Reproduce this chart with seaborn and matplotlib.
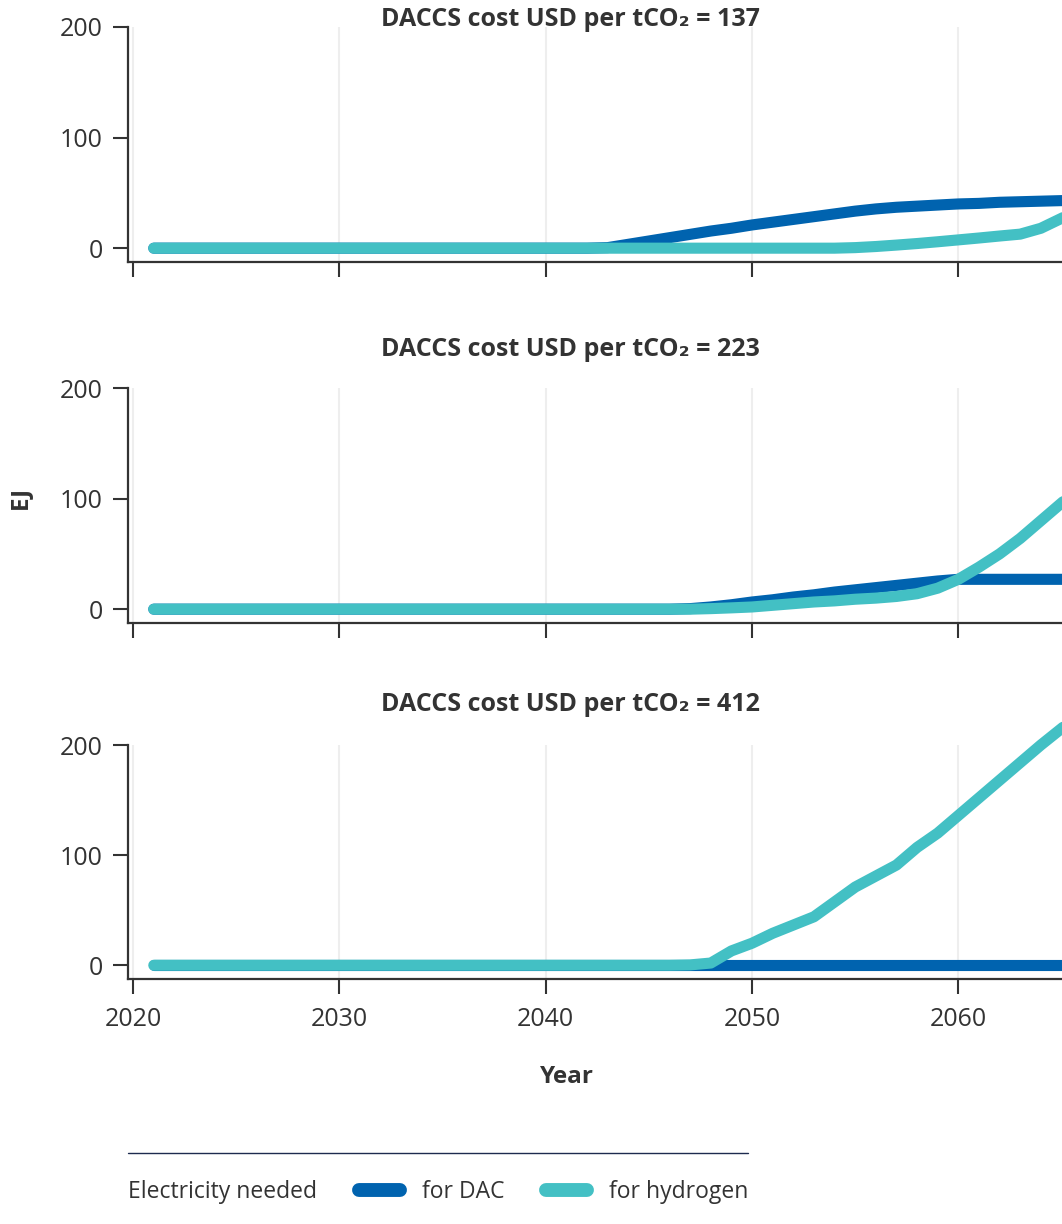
import numpy as np
import pandas as pd
import matplotlib
matplotlib.use('Agg')
import matplotlib.pyplot as plt
from matplotlib.lines import Line2D
import seaborn as sns

# ── Data (EJ of electricity needed) ───────────────────────────────────────────

years = list(range(2021, 2067))

costs = [137, 223, 412]

dac_137 = [0] * 22 + [0.5, 3.5, 6.5, 9.5, 12.5, 15.5, 18, 21, 23.5, 26, 28.5, 31,
                      33.5, 35.5, 37, 38, 39, 40, 40.5, 41.5, 42, 42.5, 43, 43.5]
hyd_137 = [0] * 34 + [0.5, 1.5, 2.8, 4.2, 5.8, 7.5, 9.2, 11, 12.7, 18, 27, 36]

dac_223 = [0] * 26 + [0.5, 2, 4, 6.5, 8.5, 11, 13, 15.5, 17.5, 19.5, 21.5, 23.5,
                      25.5, 27, 27, 27, 27, 27, 27, 27]
hyd_223 = [0] * 27 + [0.5, 1.2, 2, 3.5, 5, 6.5, 7.5, 9, 10, 11.5, 14, 19, 27, 38,
                      50, 64, 80, 96, 112]

dac_412 = [0] * 46
hyd_412 = [0] * 26 + [0.3, 2, 13, 20, 29, 36.5, 44, 57.5, 71, 81, 91, 107, 120,
                      136, 152, 168, 184, 200, 215, 230]

series = ['for DAC', 'for hydrogen']
colors = ['#0063af', '#43c0c4']
panel_data = {137: (dac_137, hyd_137), 223: (dac_223, hyd_223), 412: (dac_412, hyd_412)}

x_ticks = [2020, 2030, 2040, 2050, 2060]
y_ticks = [0, 100, 200]

# ── Style ─────────────────────────────────────────────────────────────────────

sns.set_theme(style='white')
plt.rcParams['font.family'] = ['Open Sans', 'DejaVu Sans']
TXT = '#333333'

W, H = 1062, 1224
fig = plt.figure(figsize=(W / 100, H / 100), dpi=100)

# axes boxes in pixels: (top of 200 tick, x-axis line)
boxes = [(27, 262), (388, 623), (745, 979)]
title_y = [20, 349, 705]
px_per_year = 20.63
x0 = 2019.75
x1 = 2070
left_px = 128
width_px = (x1 - x0) * px_per_year

for i, (cost, (top, bot)) in enumerate(zip(costs, boxes)):
    ax = fig.add_axes([left_px / W, 1 - bot / H, width_px / W, (bot - top) / H])
    dac, hyd = panel_data[cost]
    df = pd.DataFrame({
        'Year': years * 2,
        'EJ': dac + hyd,
        'Series': [series[0]] * len(years) + [series[1]] * len(years),
    })
    sns.lineplot(data=df, x='Year', y='EJ', hue='Series', hue_order=series,
                 palette=colors, lw=8, estimator=None, legend=False, ax=ax,
                 solid_capstyle='round', clip_on=False)
    ax.set_xlim(x0, x1)
    ax.set_ylim(-12.5, 200)
    ax.set_xticks(x_ticks)
    ax.set_yticks(y_ticks)
    if i < 2:
        ax.set_xticklabels([])
    ax.set_xlabel('')
    ax.set_ylabel('')
    sns.despine(ax=ax)
    for s in ['left', 'bottom']:
        ax.spines[s].set_color(TXT)
        ax.spines[s].set_linewidth(1.6)
    ax.tick_params(axis='both', which='major', length=11, width=1.5, color=TXT,
                   labelcolor=TXT, labelsize=18, pad=7, direction='out',
                   bottom=True, left=True)
    ax.tick_params(axis='x', pad=9)
    ax.xaxis.grid(True, color='#eeeeee', lw=1.5)
    ax.yaxis.grid(False)
    ax.set_axisbelow(True)

    fig.text(570 / W, 1 - title_y[i] / H,
             f'DACCS cost USD per tCO\u2082 = {cost}',
             ha='center', va='center', fontsize=18, fontweight='bold', color=TXT)

fig.text(20 / W, 1 - 497 / H, 'EJ', rotation=90, ha='center', va='center',
         fontsize=17.5, fontweight='bold', color=TXT)
fig.text(567 / W, 1 - 1077 / H, 'Year', ha='center', va='center',
         fontsize=17.5, fontweight='bold', color=TXT)

# ── Legend ────────────────────────────────────────────────────────────────────

fig.add_artist(Line2D([128 / W, 748 / W], [1 - 1153 / H] * 2,
                      transform=fig.transFigure, color='#1d2b4f', lw=1))
fig.text(128 / W, 1 - 1192 / H, 'Electricity needed', ha='left', va='center',
         fontsize=16.5, color=TXT)
handles = [Line2D([0], [0], color=c, lw=10, solid_capstyle='round') for c in colors]
fig.legend(handles, series, loc='center left',
           bbox_to_anchor=(359 / W, 1 - 1192 / H), ncol=2, frameon=False,
           fontsize=16.5, handlelength=1.8, handletextpad=0.95, columnspacing=1.8,
           borderpad=0, borderaxespad=0, labelcolor=TXT)

fig.savefig('out.png', dpi=100)
